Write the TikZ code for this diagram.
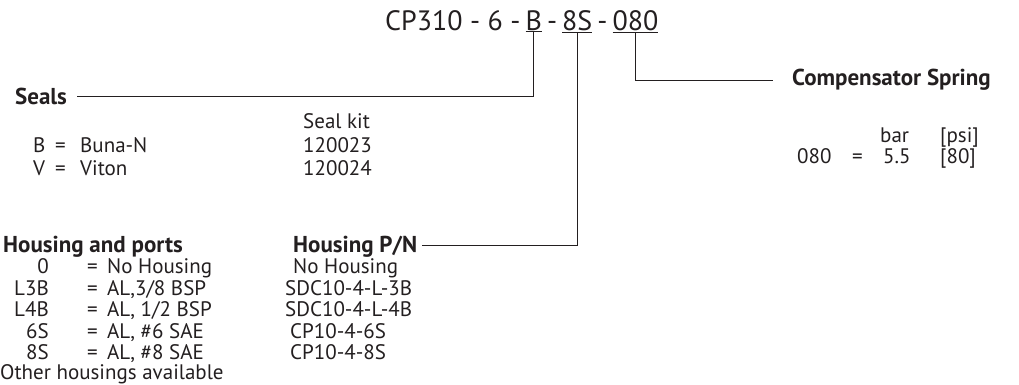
\documentclass[tikz,border=0pt]{standalone}
\usepackage{fontspec}
\setmainfont{PT Sans}
\usetikzlibrary{positioning}
\definecolor{ink}{HTML}{231F20}

\tikzset{
  txt/.style={anchor=base west, inner sep=0pt, text=ink, font=\fontsize{21}{25}\selectfont},
  hdr/.style={txt, font=\fontsize{23}{26}\selectfont\bfseries},
  code/.style={inner sep=0pt, text=ink, font=\fontsize{28}{32}\selectfont},
  lead/.style={draw=ink, line width=0.9pt}
}

\begin{document}
\begin{tikzpicture}[x=1pt,y=-1pt]
	\useasboundingbox (0,0) rectangle (1019,384);

	% order code
	\node[code, anchor=base west] (cp) at (385,30) {CP310 - 6 -};
	\node[code, base right=0.47em of cp] (sealcode) {\underline{B}};
	\node[code, base right=0.47em of sealcode] (d1) {-};
	\node[code, base right=0.47em of d1] (portcode) {\underline{8S}};
	\node[code, base right=0.47em of portcode] (d2) {-};
	\node[code, base right=0.47em of d2] (springcode) {\underline{080}};

	% seals
	\node[hdr] (seals) at (15,104) {Seals};
	\node[txt] (kit) at (303,128) {Seal kit};
	\node[txt] (b) at (33,152) {B};
	\node[txt] (beq) at (55,152) {=};
	\node[txt] (buna) at (80,152) {Buna-N};
	\node[txt] (v) at (33,175) {V};
	\node[txt] (veq) at (55,175) {=};
	\node[txt] (viton) at (80,175) {Viton};
	\node[txt] (kitb) at (303,152) {120023};
	\node[txt] (kitv) at (303,175) {120024};

	% housing and ports
	\node[hdr] (housing) at (3,252) {Housing and ports};
	\node[hdr] (pn) at (293,252) {Housing P/N};
	\foreach \c/\d/\p/\px [count=\i] in {0/No Housing/No Housing/293,
			L3B/{AL,3/8 BSP}/SDC10-4-L-3B/285,
			L4B/{AL, 1/2 BSP}/SDC10-4-L-4B/285,
			6S/{AL, \#6 SAE}/CP10-4-6S/290,
			8S/{AL, \#8 SAE}/CP10-4-8S/290} {
		\node[txt, anchor=base east] (port\i) at (49,252+21.5*\i) {\c};
		\node[txt] (peq\i) at (87,252+21.5*\i) {=};
		\node[txt] (pdesc\i) at (107,252+21.5*\i) {\d};
		\node[txt] (pnum\i) at (\px,252+21.5*\i) {\p};
	}
	\node[txt] (other) at (0,379.5) {Other housings available};

	% compensator spring
	\node[hdr] (spring) at (792,85) {Compensator Spring};
	\node[txt] (bar) at (880,142) {bar};
	\node[txt] (psi) at (940,142) {[psi]};
	\node[txt] (s080) at (797,163) {080};
	\node[txt] (seq) at (852,163) {=};
	\node[txt] (s55) at (883,163) {5.5};
	\node[txt] (s80) at (940,163) {[80]};

	% leaders
	\draw[lead] (sealcode.south) |- ([xshift=10pt]seals.east |- 0,96);
	\draw[lead] (portcode.south) |- ([xshift=5pt]pn.east |- 0,245);
	\draw[lead] (springcode.south) |- ([xshift=-19pt]spring.west |- 0,80);
\end{tikzpicture}
\end{document}
